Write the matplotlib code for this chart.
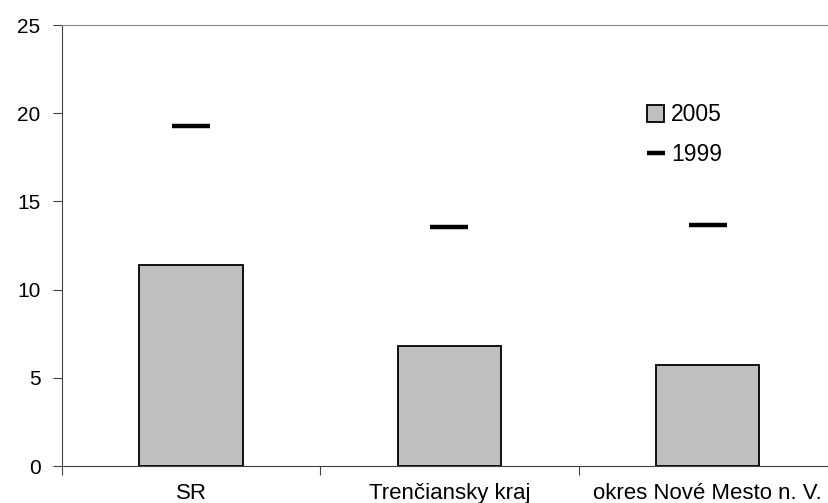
import matplotlib.pyplot as plt
from matplotlib.patches import Patch
from matplotlib.lines import Line2D

plt.rcParams['font.family'] = ['Liberation Sans', 'DejaVu Sans']

regions = ["SR", "Trenčiansky kraj", "okres Nové Mesto n. V."]
val_2005 = [11.4, 6.8, 5.75]
val_1999 = [19.25, 13.55, 13.65]

fig = plt.figure(figsize=(8.29, 5.03), dpi=100)
# axes run a bit past the right edge, as in the reference
ax = fig.add_axes([62/829, 37/503, 775/829, 441/503])

x = list(range(len(regions)))
ax.bar(x, val_2005, width=0.4, color='#c0c0c0', edgecolor='black', linewidth=1.3, zorder=2)
ax.plot(x, val_1999, linestyle='none', marker='_', markersize=27, markeredgewidth=3.2,
        color='black', zorder=3)

ax.set_xlim(-0.5, 2.5)
ax.set_ylim(0, 25)
ax.set_yticks([0, 5, 10, 15, 20, 25])
ax.set_xticks([-0.5, 0.5, 1.5, 2.5])
ax.set_xticklabels([])
ax.set_xticks(x, minor=True)
ax.set_xticklabels(regions, minor=True)
ax.tick_params(axis='x', which='minor', length=0, pad=12, labelsize=16)
ax.tick_params(axis='x', which='major', direction='out', length=6.5, color='#404040')
ax.tick_params(axis='y', direction='out', length=6.5, color='#404040', labelsize=15, pad=9)

ax.spines['right'].set_visible(False)
ax.spines['top'].set_color('#8c8c8c')
ax.spines['left'].set_color('#404040')
ax.spines['bottom'].set_color('#404040')

handles = [Patch(facecolor='#c0c0c0', edgecolor='black', linewidth=1.3),
           Line2D([], [], linestyle='none', marker='_', markersize=13, markeredgewidth=3.2, color='black')]
ax.legend(handles, ['2005', '1999'], loc='upper left', bbox_to_anchor=(638/829, 1 - 94/503),
          bbox_transform=fig.transFigure, frameon=False, fontsize=16.5,
          handlelength=0.75, handleheight=0.75, handletextpad=0.3, labelspacing=0.75,
          borderaxespad=0)

fig.savefig('out.png', dpi=100)
